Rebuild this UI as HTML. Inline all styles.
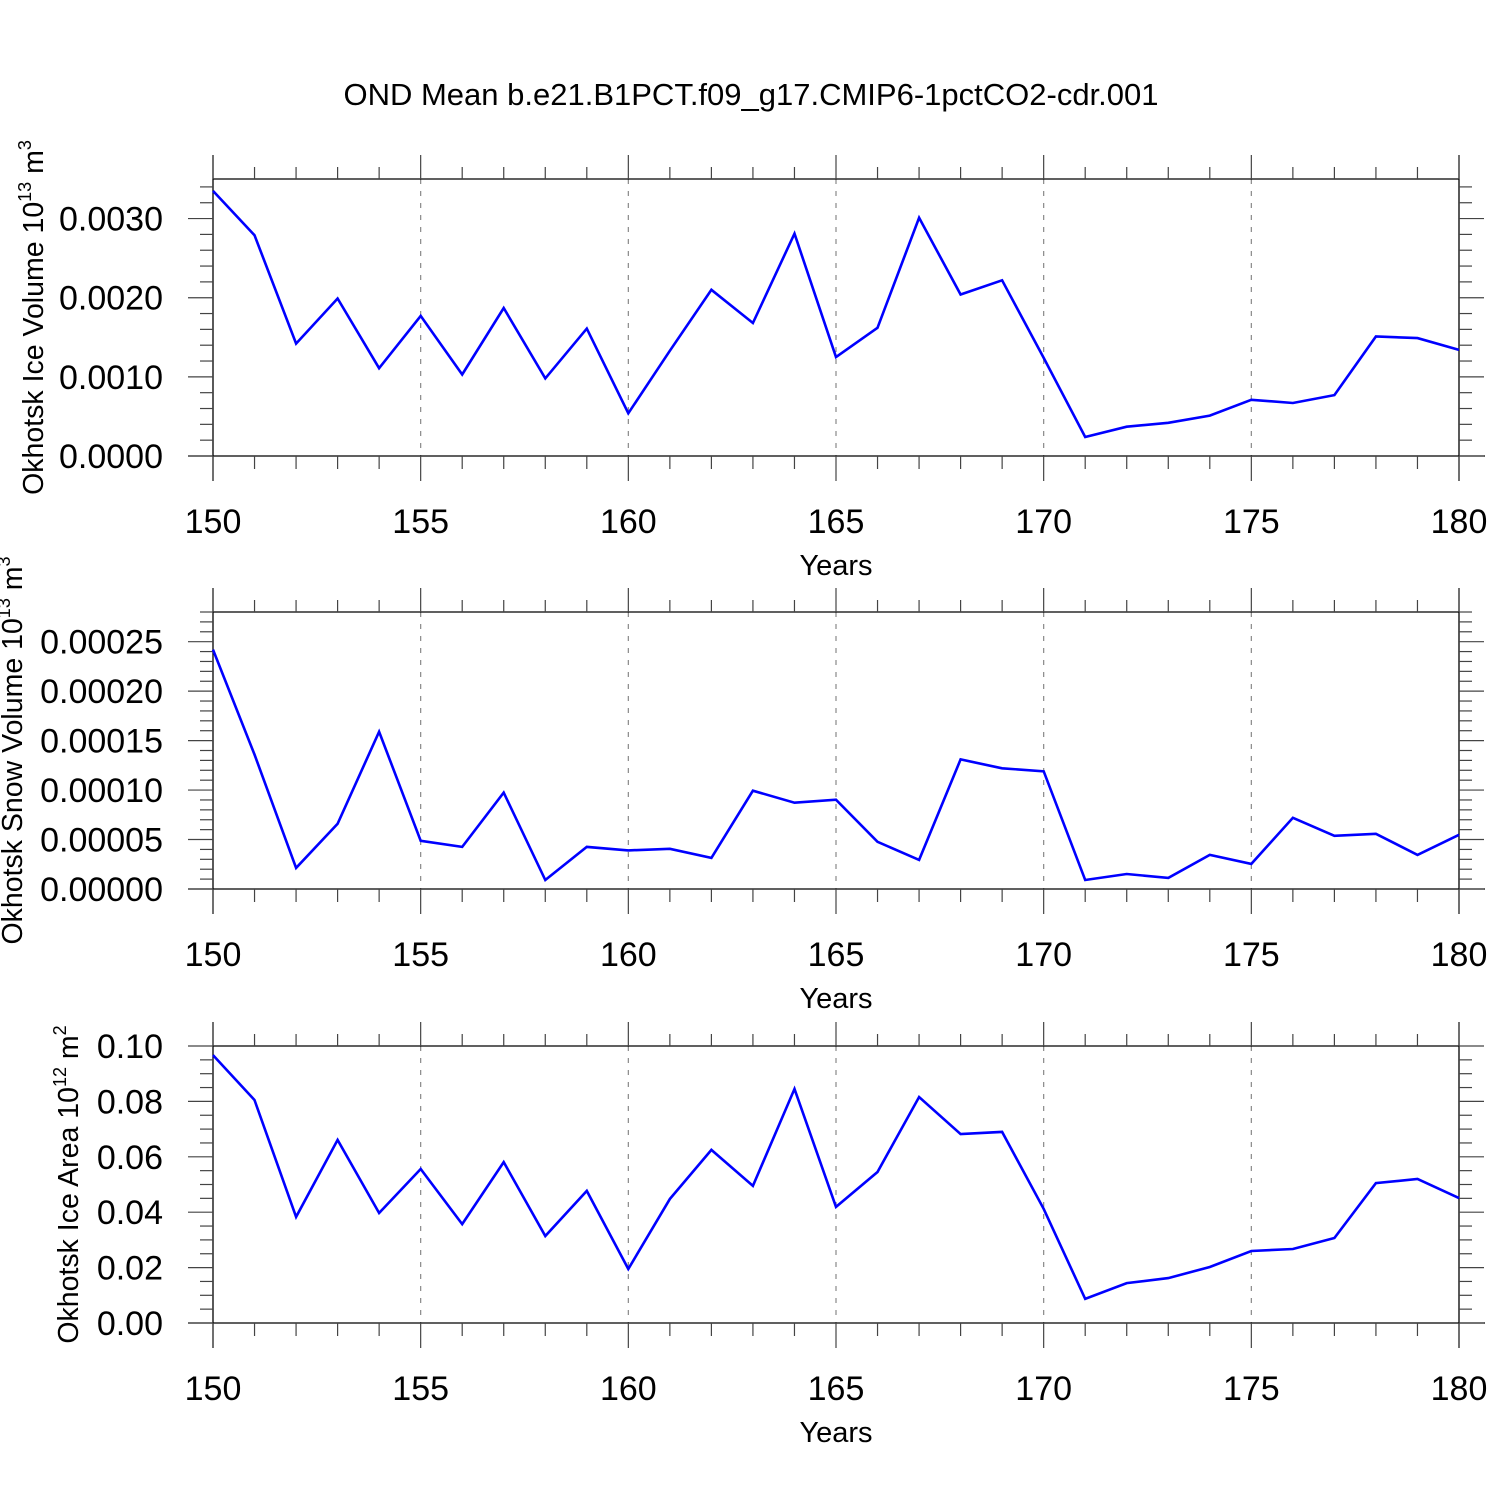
<!DOCTYPE html>
<html><head><meta charset="utf-8"><style>
html,body{margin:0;padding:0;background:#fff;}
svg{display:block;font-family:"Liberation Sans",sans-serif;}
</style></head><body>
<svg id="chart" width="1500" height="1500" viewBox="0 0 1500 1500" xmlns="http://www.w3.org/2000/svg">
<rect width="1500" height="1500" fill="#fff"/>
<text x="751" y="105" font-size="31" text-anchor="middle">OND Mean b.e21.B1PCT.f09_g17.CMIP6-1pctCO2-cdr.001</text>
</svg>
<script>
const years = [150,151,152,153,154,155,156,157,158,159,160,161,162,163,164,165,166,167,168,169,170,171,172,173,174,175,176,177,178,179,180];
const iceVolume = [0.00335,0.00279,0.00142,0.00199,0.00111,0.00177,0.00103,0.00187,0.00098,0.00161,0.00054,0.00133,0.00210,0.00168,0.00281,0.00125,0.00162,0.00301,0.00204,0.00222,0.00124,0.00024,0.00037,0.00042,0.00051,0.00071,0.00067,0.00077,0.00151,0.00149,0.00134];
const snowVolume = [0.000242,0.000136,0.0000213,0.0000659,0.000159,0.0000487,0.0000426,0.0000974,0.0000091,0.0000426,0.0000390,0.0000406,0.0000314,0.0000994,0.0000872,0.0000903,0.0000477,0.0000294,0.000131,0.000122,0.000119,0.0000091,0.0000152,0.0000112,0.0000345,0.0000254,0.000072,0.0000538,0.0000558,0.0000345,0.0000548];
const iceArea = [0.0967,0.0805,0.0383,0.0661,0.0397,0.0556,0.0357,0.0581,0.0314,0.0477,0.0195,0.0448,0.0625,0.0495,0.0845,0.0419,0.0545,0.0816,0.0682,0.0690,0.0412,0.0087,0.0144,0.0162,0.0202,0.0260,0.0267,0.0307,0.0505,0.0520,0.0451];
const xTickLabels = ["150","155","160","165","170","175","180"];
const volTicks = ["0.0000","0.0010","0.0020","0.0030"];
const snowTicks = ["0.00000","0.00005","0.00010","0.00015","0.00020","0.00025"];
const areaTicks = ["0.00","0.02","0.04","0.06","0.08","0.10"];

const svg = document.getElementById('chart');
const NS = 'http://www.w3.org/2000/svg';
function mk(tag, attrs, parent){
  const e = document.createElementNS(NS, tag);
  for (const k in attrs) e.setAttribute(k, attrs[k]);
  (parent||svg).appendChild(e);
  return e;
}
const X0 = 213, X1 = 1459;
function xs(v){ return X0 + (v-150)/(180-150)*(X1-X0); }

function panel(name, top, bottom, ymax, yMajor, yMinor, ticks, values, title, sup, unit, titleX){
  const g = mk('g', {});
  
  
  const ys = v => bottom - v/ymax*(bottom-top);
  for (let yr=155; yr<180; yr+=5){
    const l = mk('line',{x1:xs(yr),x2:xs(yr),y1:top,y2:bottom,stroke:'#888','stroke-width':1.2,'stroke-dasharray':'5,7'},g);
    
    
  }
  const c = '#000';
  mk('line',{x1:X0,x2:X1,y1:top,y2:top,stroke:c,'stroke-width':1.3},g);
  mk('line',{x1:X0-25,x2:X1+26,y1:bottom,y2:bottom,stroke:c,'stroke-width':1.3},g);
  mk('line',{x1:X0,x2:X0,y1:top-24,y2:bottom+25,stroke:c,'stroke-width':1.3},g);
  mk('line',{x1:X1,x2:X1,y1:top-24,y2:bottom+25,stroke:c,'stroke-width':1.3},g);
  for (let yr=150; yr<=180; yr++){
    const major = yr%5===0;
    const len = major?24:12;
    mk('line',{x1:xs(yr),x2:xs(yr),y1:top-len,y2:top,stroke:'#444','stroke-width':1.2},g);
    mk('line',{x1:xs(yr),x2:xs(yr),y1:bottom,y2:bottom+len+1,stroke:'#444','stroke-width':1.2},g);
  }
  xTickLabels.forEach(t=>{
    const tx = mk('text',{x:xs(+t),y:bottom+77,'font-size':34,'text-anchor':'middle'},g);
    tx.textContent = t;
    
    
  });
  const xt = mk('text',{x:836,y:bottom+119,'font-size':29,'text-anchor':'middle'},g);
  xt.textContent = 'Years';
  
  
  const n = Math.round(ymax/yMinor+1e-6);
  for (let i=0;i<=n;i++){
    const v = i*yMinor;
    if (v>ymax+1e-12) break;
    const major = Math.abs(v/yMajor - Math.round(v/yMajor))<1e-6;
    const len = major?25:13;
    const y = ys(v);
    mk('line',{x1:X0-len,x2:X0,y1:y,y2:y,stroke:'#444','stroke-width':1.2},g);
    mk('line',{x1:X1,x2:X1+len,y1:y,y2:y,stroke:'#444','stroke-width':1.2},g);
  }
  ticks.forEach(t=>{
    const ty = mk('text',{x:163,y:ys(+t)+12,'font-size':34,'text-anchor':'end'},g);
    ty.textContent = t;
    
    
  });
  const cy = (top+bottom)/2;
  const yt = mk('text',{x:0,y:0,'font-size':28.5,'text-anchor':'middle',transform:`translate(${titleX},${cy}) rotate(-90)`},g);
  
  
  const s1 = document.createElementNS(NS,'tspan'); s1.textContent = title+' 10'; yt.appendChild(s1);
  const s2 = document.createElementNS(NS,'tspan'); s2.setAttribute('dy','-12'); s2.setAttribute('font-size','18'); s2.textContent = sup; yt.appendChild(s2);
  const s3 = document.createElementNS(NS,'tspan'); s3.setAttribute('dy','12'); s3.textContent = ' m'; yt.appendChild(s3);
  const s4 = document.createElementNS(NS,'tspan'); s4.setAttribute('dy','-12'); s4.setAttribute('font-size','18'); s4.textContent = unit; yt.appendChild(s4);
  const pts = years.map((yr,i)=>xs(yr).toFixed(1)+','+ys(values[i]).toFixed(1)).join(' ');
  const pl = mk('polyline',{points:pts,fill:'none',stroke:'#0000ff','stroke-width':2.6,'stroke-linejoin':'miter'},g);
  
  
}
panel('ice-volume',179,456,0.0035,0.001,0.0002,volTicks,iceVolume,'Okhotsk Ice Volume','13','3',43);
panel('snow-volume',612,889,0.00028,0.00005,0.00001,snowTicks,snowVolume,'Okhotsk Snow Volume','13','3',22);
panel('ice-area',1046,1323,0.10,0.02,0.005,areaTicks,iceArea,'Okhotsk Ice Area','12','2',78);
</script>
</body></html>
